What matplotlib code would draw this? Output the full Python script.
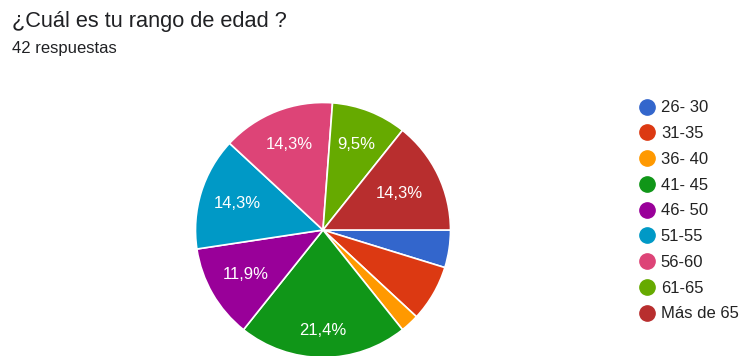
import matplotlib
matplotlib.use("Agg")
import matplotlib.pyplot as plt
from matplotlib.lines import Line2D
import numpy as np

plt.rcParams['font.family'] = ['Liberation Sans', 'DejaVu Sans']

title = "¿Cuál es tu rango de edad ?"
subtitle = "42 respuestas"
categories = ["26- 30", "31-35", "36- 40", "41- 45", "46- 50", "51-55", "56-60", "61-65", "Más de 65"]
counts = [2, 3, 1, 9, 5, 6, 6, 4, 6]
colors = ["#3366CC", "#DC3912", "#FF9900", "#109618", "#990099", "#0099C6", "#DD4477", "#66AA00", "#B82E2E"]

W, H = 745, 356
fig = plt.figure(figsize=(W / 100, H / 100), dpi=100)
fig.patch.set_facecolor("white")

cx, cy, r = 323, 230, 127.5
ax = fig.add_axes([(cx - r) / W, (H - cy - r) / H, 2 * r / W, 2 * r / H])

def fmt(p):
    return ("%.1f%%" % p).replace(".", ",") if p >= 8 else ""

wedges, texts, autotexts = ax.pie(
    counts, colors=colors, startangle=0, counterclock=False, radius=1,
    autopct=fmt, pctdistance=0.70,
    wedgeprops=dict(edgecolor="white", linewidth=1.2),
    textprops=dict(color="white", fontsize=12))
label_dist = [0.7, 0.7, 0.7, 0.79, 0.7, 0.7, 0.72, 0.72, 0.66]
for w, t, d in zip(wedges, autotexts, label_dist):
    mid = np.deg2rad((w.theta1 + w.theta2) / 2)
    t.set_position((d * np.cos(mid), d * np.sin(mid)))
ax.set_xlim(-1, 1)
ax.set_ylim(-1, 1)
ax.set_aspect("equal")
ax.axis("off")

fig.text(12 / W, 1 - 27.5 / H, title, fontsize=15.7, color="#202124", va="baseline", ha="left")
fig.text(12 / W, 1 - 53.5 / H, subtitle, fontsize=12, color="#202124", va="baseline", ha="left")

handles = [Line2D([], [], marker="o", linestyle="none", markersize=11, markerfacecolor=c,
                  markeredgecolor=c) for c in colors]
leg = fig.legend(handles, categories, loc="upper left",
                 bbox_to_anchor=(640 / W, 1 - 100.5 / H), frameon=False,
                 fontsize=12, labelspacing=0.645, handlelength=0.8, handletextpad=0.45,
                 borderaxespad=0, borderpad=0)
for t in leg.get_texts():
    t.set_color("#222222")

fig.savefig("out.png", dpi=100, facecolor="white")
